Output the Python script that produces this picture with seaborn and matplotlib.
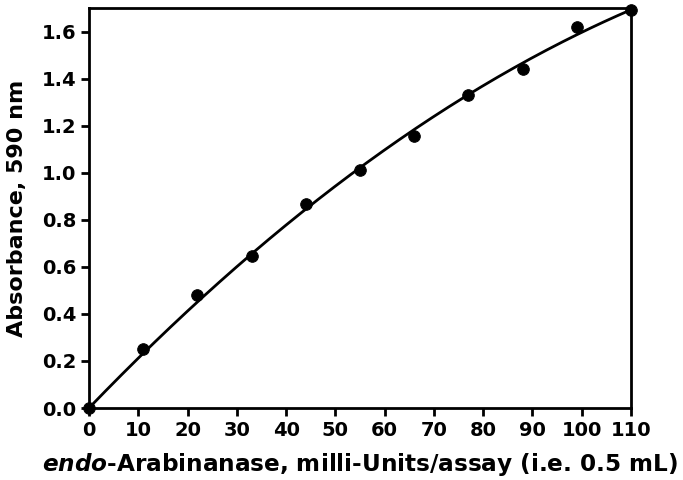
import numpy as np
import pandas as pd
import seaborn as sns
import matplotlib
matplotlib.use("Agg")
import matplotlib.pyplot as plt

units = [0, 11, 22, 33, 44, 55, 66, 77, 88, 99, 110]
absorbance = [0.0, 0.252, 0.482, 0.648, 0.866, 1.011, 1.156, 1.331, 1.442, 1.62, 1.69]
x_ticks = [0, 10, 20, 30, 40, 50, 60, 70, 80, 90, 100, 110]
y_ticks = [0.0, 0.2, 0.4, 0.6, 0.8, 1.0, 1.2, 1.4, 1.6]

sns.set_theme(style="ticks")
plt.rcParams['font.family'] = ['DejaVu Sans']
plt.rcParams['font.weight'] = 'bold'
plt.rcParams['mathtext.fontset'] = 'custom'
plt.rcParams['mathtext.it'] = 'DejaVu Sans:italic:bold'
plt.rcParams['mathtext.rm'] = 'DejaVu Sans:bold'
for k in ['text.color', 'axes.labelcolor', 'xtick.color', 'ytick.color', 'axes.edgecolor']:
    plt.rcParams[k] = 'black'

df = pd.DataFrame({"units": units, "abs": absorbance})

# quadratic fit through origin
xa = np.array(units, float)
ya = np.array(absorbance, float)
A = np.vstack([xa, xa**2]).T
coef, *_ = np.linalg.lstsq(A, ya, rcond=None)
xf = np.linspace(0, 110, 200)
fit = pd.DataFrame({"units": xf, "abs": coef[0]*xf + coef[1]*xf**2})

fig = plt.figure(figsize=(6.83, 4.8), dpi=100)
ax = fig.add_axes([0.1303, 0.15, 0.7936, 0.8333])
sns.lineplot(data=fit, x="units", y="abs", ax=ax, color="black", linewidth=2)
sns.scatterplot(data=df, x="units", y="abs", ax=ax, color="black", s=70,
                edgecolor="black", zorder=5, clip_on=False)

ax.set_xlim(0, 110)
ax.set_ylim(0, 1.7)
ax.set_xticks(x_ticks)
ax.set_yticks(y_ticks)
ax.set_yticklabels([f"{v:.1f}" for v in y_ticks])
for s in ax.spines.values():
    s.set_linewidth(2)
    s.set_color("black")
ax.tick_params(axis='both', width=2, length=6, labelsize=14, color='black',
               labelcolor='black', pad=3)
for lab in ax.get_xticklabels() + ax.get_yticklabels():
    lab.set_fontweight('bold')
ax.set_xlabel(r'$\mathit{endo}$-Arabinanase, milli-Units/assay (i.e. 0.5 mL)',
              fontsize=16.7, fontweight='bold', color='black')
ax.set_ylabel('Absorbance, 590 nm', fontsize=16, fontweight='bold', color='black')
ax.xaxis.set_label_coords(0.5, -0.108)
ax.yaxis.set_label_coords(-0.114, 0.5)

fig.savefig("out.png", dpi=100)
